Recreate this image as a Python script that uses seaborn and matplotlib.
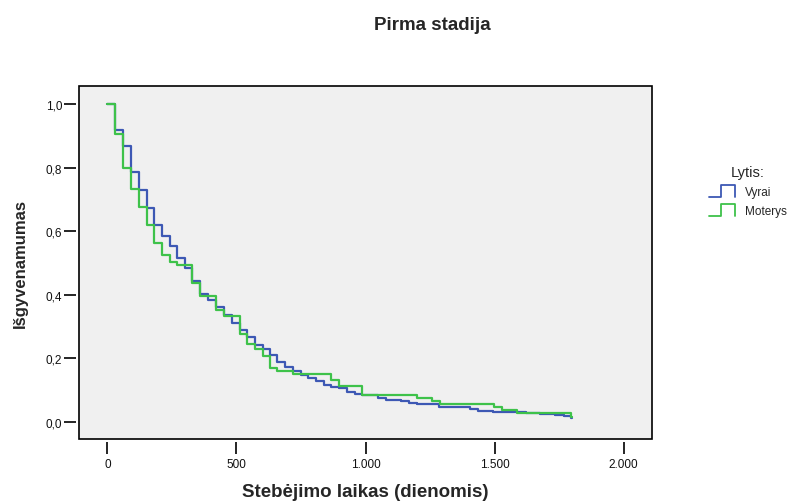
import matplotlib
matplotlib.use("Agg")
import matplotlib.pyplot as plt
import matplotlib.ticker as mticker
from matplotlib.legend_handler import HandlerBase
from matplotlib.lines import Line2D
from matplotlib.patches import Rectangle
import seaborn as sns
import pandas as pd

# ---- data ----
vyrai_t = [0, 31, 61, 92, 121, 152, 182, 212, 241, 271, 302, 329, 360, 391, 421, 452, 482,
           512, 541, 571, 601, 629, 657, 690, 720, 749, 779, 809, 838, 868, 899, 929, 959,
           988, 1048, 1079, 1110, 1138, 1168, 1198, 1285, 1405, 1435, 1465, 1494, 1620,
           1678, 1736, 1769, 1798, 1800]
vyrai_s = [1.0, 0.920, 0.867, 0.785, 0.729, 0.673, 0.618, 0.586, 0.552, 0.515, 0.485, 0.444,
           0.403, 0.383, 0.362, 0.337, 0.312, 0.288, 0.268, 0.241, 0.229, 0.210, 0.187, 0.172,
           0.161, 0.147, 0.139, 0.127, 0.115, 0.110, 0.106, 0.093, 0.088, 0.086, 0.076, 0.070,
           0.068, 0.066, 0.060, 0.057, 0.046, 0.040, 0.035, 0.034, 0.032, 0.029, 0.025, 0.021,
           0.018, 0.011, 0.011]
moterys_t = [0, 31, 61, 92, 121, 152, 182, 212, 241, 271, 329, 360, 421, 452, 512, 541, 571,
             601, 629, 657, 720, 868, 899, 988, 1198, 1257, 1288, 1497, 1527, 1588, 1798, 1800]
moterys_s = [1.0, 0.905, 0.799, 0.733, 0.676, 0.618, 0.562, 0.525, 0.504, 0.494, 0.438, 0.397,
             0.353, 0.333, 0.275, 0.245, 0.229, 0.208, 0.171, 0.161, 0.151, 0.133, 0.113, 0.086,
             0.075, 0.065, 0.057, 0.046, 0.037, 0.028, 0.015, 0.015]
groups = ["Vyrai", "Moterys"]
colors = {"Vyrai": "#3d58b4", "Moterys": "#3ec24a"}
x_ticks = [0, 500, 1000, 1500, 2000]
y_ticks = [0.0, 0.2, 0.4, 0.6, 0.8, 1.0]

df = pd.concat([
    pd.DataFrame({"t": vyrai_t, "s": vyrai_s, "Lytis": "Vyrai"}),
    pd.DataFrame({"t": moterys_t, "s": moterys_s, "Lytis": "Moterys"}),
], ignore_index=True)

sns.set_style("white")
plt.rcParams["font.family"] = ["Liberation Sans", "DejaVu Sans"]

fig = plt.figure(figsize=(7.98, 5.02), dpi=100)
ax = fig.add_axes([79 / 798, 1 - 440 / 502, (652 - 79) / 798, (440 - 87) / 502])
ax.set_facecolor("#f0f0f0")

sns.lineplot(data=df, x="t", y="s", hue="Lytis", hue_order=groups, palette=colors,
             estimator=None, sort=False, drawstyle="steps-post", linewidth=1.6,
             legend=False, ax=ax)

ax.set_xlim(-110, 2110)
ax.set_ylim(-0.054, 1.057)
ax.set_xticks(x_ticks)
ax.set_yticks(y_ticks)
ax.xaxis.set_major_formatter(mticker.FuncFormatter(lambda v, p: f"{int(v):,}".replace(",", ".")))
ax.yaxis.set_major_formatter(mticker.FuncFormatter(lambda v, p: f"{v:.1f}".replace(".", ",")))

# ticks detached slightly from the frame
for side in ("left", "bottom"):
    ax.spines[side].set_position(("outward", 2))
    ax.spines[side].set_color("none")
for side in ("top", "right"):
    ax.spines[side].set_visible(False)
ax.add_patch(Rectangle((0, 0), 1, 1, transform=ax.transAxes, fill=False,
                       edgecolor="black", linewidth=1.2, clip_on=False, zorder=5))

ax.tick_params(axis="both", which="major", bottom=True, left=True, direction="out",
               length=8.5, width=1.2, labelsize=8.5, color="black", labelcolor="#111111")
ax.tick_params(axis="x", pad=3)
ax.tick_params(axis="y", pad=1.5)

ax.set_xlabel("Stebėjimo laikas (dienomis)", fontsize=13.5, fontweight="bold")
ax.set_ylabel("Išgyvenamumas", fontsize=12, fontweight="bold")
ax.xaxis.set_label_coords(0.5, -0.126)
ax.yaxis.set_label_coords(-0.09, 0.5)

fig.text(432 / 798, 1 - 30 / 502, "Pirma stadija", ha="center", va="baseline",
         fontsize=13.5, fontweight="bold")


class StepHandler(HandlerBase):
    def create_artists(self, legend, orig_handle, xdescent, ydescent, width, height,
                       fontsize, trans):
        x0 = -xdescent
        y0 = -ydescent
        xm = x0 + width * 0.45
        xs = [x0, xm, xm, x0 + width, x0 + width]
        ys = [y0, y0, y0 + height, y0 + height, y0]
        ln = Line2D(xs, ys, color=orig_handle.get_color(), linewidth=1.3, transform=trans)
        return [ln]


handles = [Line2D([], [], color=colors[g]) for g in groups]
leg = fig.legend(handles, groups, loc="upper left", bbox_to_anchor=(701 / 798, 1 - 158 / 502),
                 title="Lytis:", frameon=False, fontsize=8.5, title_fontsize=10.5,
                 handler_map={Line2D: StepHandler()}, handlelength=2.2, handleheight=1.15,
                 handletextpad=0.8, labelspacing=0.5, borderpad=0.2)

fig.savefig("out.png", dpi=100, facecolor="white")
